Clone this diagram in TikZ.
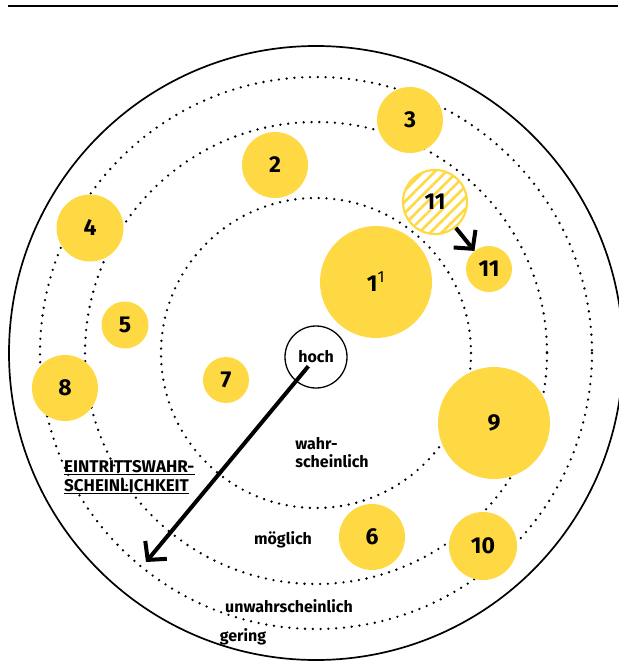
\documentclass[tikz,border=0pt]{standalone}
\usepackage{fontspec}
\setmainfont{Fira Sans}
\usetikzlibrary{arrows.meta}
\usetikzlibrary{patterns.meta}
\definecolor{riskyellow}{HTML}{FFD944}
\tikzset{risk/.style={shape=circle, fill=riskyellow, minimum size=#1, inner sep=0pt,
    font=\fontsize{23}{23}\selectfont\bfseries}}
\tikzset{ring/.style={line width=2.6pt, line cap=round, dash pattern=on 0pt off 7.8pt}}
\tikzset{level/.style={inner sep=0pt, font=\fontsize{16}{18}\selectfont\bfseries}}
\tikzset{shift arrow/.style={line width=4pt, -{Straight Barb[length=13pt,width=28pt]}}}

\begin{document}
\begin{tikzpicture}[x=1pt, y=-1pt]
    \useasboundingbox (0,0) rectangle (618,663);

    \draw[line width=1.6pt] (8,6) -- (618,6);

    \coordinate (M) at (316,353);
    \draw[line width=1.7pt] (M) circle[radius=307];
    \draw[ring] (M) circle[radius=155];
    \draw[ring] (M) circle[radius=231];
    \draw[ring] (M) circle[radius=276];

    \node[risk=112pt] (r1) at (376,282) {1\textsuperscript{\mdseries 1}};
    \node[risk=66pt] (r2) at (275,165) {2};
    \node[risk=66pt] (r3) at (410,120) {3};
    \node[risk=67pt] (r4) at (90,228) {4};
    \node[risk=47pt] (r5) at (125,325) {5};
    \node[risk=66pt] (r6) at (372,537) {6};
    \node[risk=46pt] (r7) at (226,380) {7};
    \node[risk=66pt] (r8) at (65,388) {8};
    \node[risk=112pt] (r9) at (494,423) {9};
    \node[risk=68pt] (r10) at (483,546) {10};
    \node[risk=46pt] (r11new) at (489,269) {11};
    \node[shape=circle, draw=riskyellow, line width=2.2pt, minimum size=64pt, inner sep=0pt,
        pattern={Lines[angle=45, distance=8pt, line width=2.6pt]}, pattern color=riskyellow,
        font=\fontsize{23}{23}\selectfont\bfseries] (r11old) at (435,202) {11};

    \draw[shift arrow] (r11old) -- (r11new);

    \node[shape=circle, draw=black, line width=1.3pt, minimum size=62pt, inner sep=0pt, level] (hoch) at (316,357) {hoch};
    \coordinate (tip) at (146,562);
    \draw[shift arrow, shorten <=12pt] (hoch.center) -- (tip);

    \node[level, align=left] (likely) at (332,453) {wahr-\\scheinlich};
    \node[level] (possible) at (283,540) {möglich};
    \node[level] (unlikely) at (289,606) {unwahrscheinlich};
    \node[level] (low) at (243,637) {gering};

    % achse
    \node[level, font=\fontsize{17}{17}\selectfont\bfseries, anchor=base west] (axis1) at (64,472) {EINTRITTSWAHR-};
    \node[level, font=\fontsize{17}{17}\selectfont\bfseries, anchor=base west] (axis2) at (64,491) {SCHEINLICHKEIT};
    \draw[line width=1.5pt] ([yshift=-2.5pt]axis1.base west) -- ([yshift=-2.5pt]axis1.base east);
    \draw[line width=1.5pt] ([yshift=-2.5pt]axis2.base west) -- ([yshift=-2.5pt]axis2.base east);

\end{tikzpicture}
\end{document}
